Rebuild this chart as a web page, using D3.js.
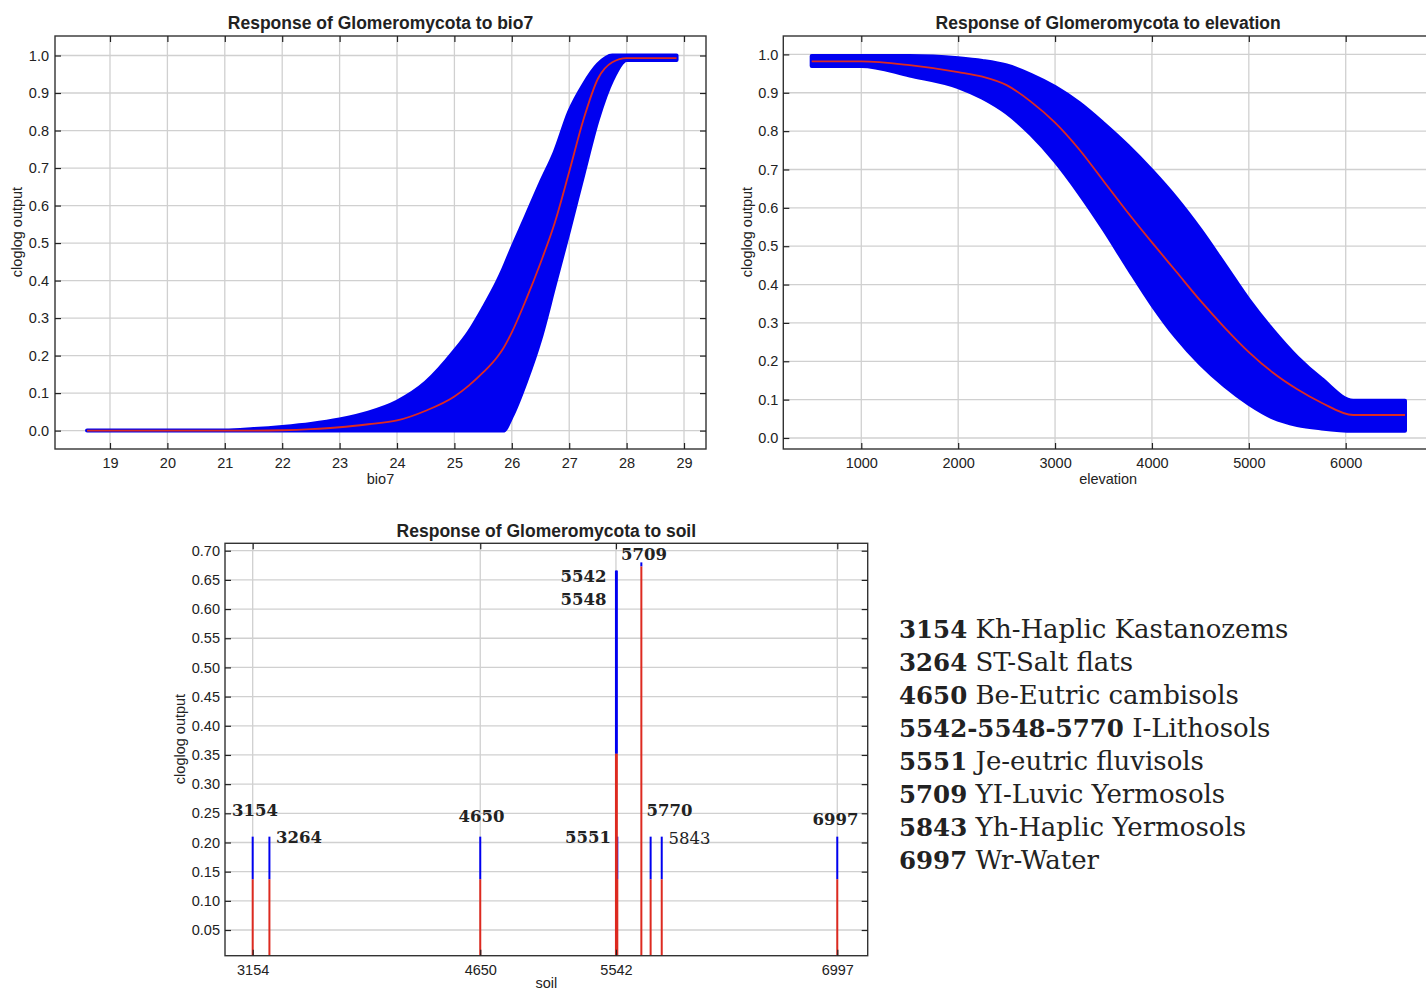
<!DOCTYPE html>
<html>
<head>
<meta charset="utf-8">
<script src="https://cdn.jsdelivr.net/npm/d3@7"></script>
<style>
  body { margin: 0; background: #fff; }
  svg { display: block; }
  text { font-family: "Liberation Sans", Arial, Helvetica, sans-serif; fill: #222; }
</style>
</head>
<body>
<svg width="1426" height="991"></svg>
<script>

// ---- bio7 response ----
const bio7X    = [18.6, 19, 20, 21, 21.5, 22, 22.5, 23, 23.5, 24, 24.5, 25, 25.25, 25.5, 25.75, 25.85, 26, 26.25, 26.5, 26.75, 27, 27.25, 27.5, 27.75, 28, 28.5, 28.87]
const bio7Mean = [0, 0, 0, 0, 0, 0.001, 0.004, 0.009, 0.017, 0.027, 0.053, 0.091, 0.12, 0.155, 0.197, 0.219, 0.262, 0.35, 0.447, 0.555, 0.69, 0.83, 0.938, 0.982, 0.993, 0.993, 0.993]
const bio7Hi   = [0, 0, 0, 0, 0.004, 0.01, 0.018, 0.03, 0.048, 0.077, 0.128, 0.212, 0.262, 0.326, 0.397, 0.43, 0.485, 0.572, 0.66, 0.743, 0.85, 0.922, 0.976, 1.0, 1.0, 1.0, 1.0]
const bio7Lo   = [0, 0, 0, 0, 0, 0, 0, 0, 0, 0, 0, 0, 0, 0, 0, 0, 0.038, 0.132, 0.245, 0.39, 0.535, 0.685, 0.83, 0.935, 0.988, 0.988, 0.988]

// ---- elevation response ----
const elevX    = [488, 1000, 1500, 2000, 2250, 2500, 2750, 3000, 3250, 3500, 3750, 4000, 4250, 4500, 4750, 5000, 5250, 5500, 5750, 6077, 6612]
const elevMean = [0.982, 0.982, 0.972, 0.954, 0.942, 0.92, 0.877, 0.822, 0.752, 0.67, 0.588, 0.51, 0.434, 0.358, 0.288, 0.224, 0.17, 0.127, 0.092, 0.06, 0.06]
const elevHi   = [0.996, 0.996, 0.996, 0.99, 0.983, 0.971, 0.947, 0.915, 0.873, 0.82, 0.762, 0.697, 0.625, 0.543, 0.452, 0.36, 0.28, 0.21, 0.154, 0.097, 0.097]
const elevLo   = [0.97, 0.97, 0.945, 0.915, 0.887, 0.848, 0.792, 0.722, 0.638, 0.545, 0.445, 0.348, 0.263, 0.193, 0.136, 0.089, 0.053, 0.034, 0.025, 0.019, 0.019]

// ---- soil response ----
const soilCodes = [3154, 3264, 4650, 5542, 5548, 5551, 5709, 5770, 5843, 6997]
const soilMean  = [0.137, 0.137, 0.137, 0.352, 0.352, 0.137, 0.673, 0.137, 0.137, 0.137]
const soilUpper = [0.21, 0.21, 0.21, 0.666, 0.666, 0.21, 0.68, 0.21, 0.21, 0.21]
const soilTicks = [3154, 4650, 5542, 6997]

// labels next to the sticks: text, soil position, value
const stickLabels = [
  {t: "3154", at: 3169, v: 0.254, bold: true},
  {t: "3264", at: 3458, v: 0.209, bold: true},
  {t: "4650", at: 4658, v: 0.244, bold: true},
  {t: "5542", at: 5329, v: 0.655, bold: true},
  {t: "5548", at: 5329, v: 0.617, bold: true},
  {t: "5709", at: 5727, v: 0.693, bold: true},
  {t: "5551", at: 5358, v: 0.208, bold: true},
  {t: "5770", at: 5894, v: 0.254, bold: true},
  {t: "5843", at: 6026, v: 0.206, bold: false},
  {t: "6997", at: 6985, v: 0.239, bold: true}
]

const legendCodes = ["3154", "3264", "4650", "5542-5548-5770", "5551", "5709", "5843", "6997"]
const legendNames = ["Kh-Haplic Kastanozems", "ST-Salt flats", "Be-Eutric cambisols", "I-Lithosols",
                     "Je-eutric fluvisols", "YI-Luvic Yermosols", "Yh-Haplic Yermosols", "Wr-Water"]

const tenths = d3.range(0, 11).map(d => d / 10)
const twentieths = d3.range(1, 15).map(d => d / 20)

const svg = d3.select("svg")
const BLUE = "#0000f0"
const RED = "#dd2a20"

function makePanel(p) {
  const x = d3.scaleLinear().domain(p.xDomain).range([p.left, p.right])
  const y = d3.scaleLinear().domain(p.yDomain).range([p.bottom, p.top])
  const g = svg.append("g")

  // grid
  g.append("g").selectAll("line").data(p.xTicks).join("line")
    .attr("x1", d => x(d)).attr("x2", d => x(d))
    .attr("y1", p.top).attr("y2", p.bottom)
    .attr("stroke", "#d0d0d0").attr("stroke-width", 1.3)
  g.append("g").selectAll("line").data(p.yTicks).join("line")
    .attr("x1", p.left).attr("x2", p.right)
    .attr("y1", d => y(d)).attr("y2", d => y(d))
    .attr("stroke", "#d0d0d0").attr("stroke-width", 1.3)

  const marks = g.append("g")

  // frame
  g.append("rect")
    .attr("x", p.left).attr("y", p.top)
    .attr("width", p.right - p.left).attr("height", p.bottom - p.top)
    .attr("fill", "none").attr("stroke", "#333").attr("stroke-width", 1.4)

  // axes, ticks pointing inwards
  const bottomAxis = g.append("g").attr("transform", `translate(0,${p.bottom})`)
    .call(d3.axisBottom(x).tickValues(p.xTicks).tickSize(-6).tickSizeOuter(0).tickPadding(p.xPad).tickFormat(p.xFormat))
  const leftAxis = g.append("g").attr("transform", `translate(${p.left},0)`)
    .call(d3.axisLeft(y).tickValues(p.yTicks).tickSize(-6).tickSizeOuter(0).tickPadding(p.yPad).tickFormat(p.yFormat))
  const topAxis = g.append("g").attr("transform", `translate(0,${p.top})`)
    .call(d3.axisTop(x).tickValues(p.xTicks).tickSize(-6).tickSizeOuter(0).tickFormat(""))
  const rightAxis = g.append("g").attr("transform", `translate(${p.right},0)`)
    .call(d3.axisRight(y).tickValues(p.yTicks).tickSize(-6).tickSizeOuter(0).tickFormat(""))

  ;[bottomAxis, leftAxis, topAxis, rightAxis].forEach(a => {
    a.select(".domain").remove()
    a.selectAll(".tick line").attr("stroke", "#222").attr("stroke-width", 1.2)
    a.selectAll("text").style("font-size", "14.5px").attr("fill", "#222")
      .style("font-family", '"Liberation Sans", Arial, sans-serif')
  })

  // titles
  g.append("text")
    .attr("x", (p.left + p.right) / 2).attr("y", p.titleY)
    .attr("text-anchor", "middle")
    .style("font-size", "17.5px").style("font-weight", "bold").attr("fill", "#111")
    .text(p.title)
  g.append("text")
    .attr("x", (p.left + p.right) / 2).attr("y", p.xLabelY)
    .attr("text-anchor", "middle")
    .style("font-size", "14.5px")
    .text(p.xLabel)
  g.append("text")
    .attr("transform", `translate(${p.yLabelX},${p.yLabelY}) rotate(-90)`)
    .attr("text-anchor", "middle")
    .style("font-size", "14.5px")
    .text("cloglog output")

  return {x, y, marks}
}

function drawBand(panel, xs, lo, hi, mean) {
  const pts = xs.map((d, i) => ({x: d, lo: lo[i], hi: hi[i], m: mean[i]}))
  const area = d3.area()
    .x(d => panel.x(d.x)).y0(d => panel.y(d.lo)).y1(d => panel.y(d.hi))
    .curve(d3.curveMonotoneX)
  panel.marks.append("path")
    .attr("d", area(pts))
    .attr("fill", BLUE).attr("stroke", BLUE)
    .attr("stroke-width", 4).attr("stroke-linejoin", "round")
  const line = d3.line()
    .x(d => panel.x(d.x)).y(d => panel.y(d.m))
    .curve(d3.curveMonotoneX)
  panel.marks.append("path")
    .attr("d", line(pts))
    .attr("fill", "none").attr("stroke", RED).attr("stroke-width", 1.8)
}

// ---- panel 1: bio7 ----
const p1 = makePanel({
  left: 55, right: 706, top: 36, bottom: 449,
  xDomain: [18.042, 29.383], yDomain: [-0.049, 1.052],
  xTicks: d3.range(19, 30), yTicks: tenths,
  xFormat: d3.format("d"), yFormat: d3.format(".1f"),
  xPad: 9, yPad: 6,
  title: "Response of Glomeromycota to bio7", titleY: 29,
  xLabel: "bio7", xLabelY: 484, yLabelX: 22, yLabelY: 232
})
drawBand(p1, bio7X, bio7Lo, bio7Hi, bio7Mean)

// ---- panel 2: elevation ----
const p2 = makePanel({
  left: 783.3, right: 1433, top: 36, bottom: 449,
  xDomain: [195, 6901], yDomain: [-0.0287, 1.048],
  xTicks: [1000, 2000, 3000, 4000, 5000, 6000], yTicks: tenths,
  xFormat: d3.format("d"), yFormat: d3.format(".1f"),
  xPad: 9, yPad: 5,
  title: "Response of Glomeromycota to elevation", titleY: 29,
  xLabel: "elevation", xLabelY: 484, yLabelX: 752, yLabelY: 232
})
drawBand(p2, elevX, elevLo, elevHi, elevMean)

// ---- panel 3: soil ----
const p3 = makePanel({
  left: 225, right: 867.7, top: 543.3, bottom: 955.7,
  xDomain: [2972, 7197], yDomain: [0.006, 0.7127],
  xTicks: soilTicks, yTicks: twentieths,
  xFormat: d3.format("d"), yFormat: d3.format(".2f"),
  xPad: 9, yPad: 5,
  title: "Response of Glomeromycota to soil", titleY: 537,
  xLabel: "soil", xLabelY: 988, yLabelX: 185, yLabelY: 739
})

const soil = soilCodes.map((c, i) => ({c, m: soilMean[i], u: soilUpper[i]}))
p3.marks.selectAll("line.blue").data(soil).join("line")
  .attr("class", "blue")
  .attr("x1", d => p3.x(d.c)).attr("x2", d => p3.x(d.c))
  .attr("y1", d => p3.y(d.m)).attr("y2", d => p3.y(d.u))
  .attr("stroke", BLUE).attr("stroke-width", 2)
p3.marks.selectAll("line.red").data(soil).join("line")
  .attr("class", "red")
  .attr("x1", d => p3.x(d.c)).attr("x2", d => p3.x(d.c))
  .attr("y1", p3.y(p3.y.domain()[0])).attr("y2", d => p3.y(d.m))
  .attr("stroke", RED).attr("stroke-width", 2)

svg.append("g").selectAll("text").data(stickLabels).join("text")
  .attr("x", d => p3.x(d.at)).attr("y", d => p3.y(d.v))
  .attr("text-anchor", "middle").attr("dominant-baseline", "central")
  .style("font-family", '"DejaVu Serif", serif')
  .style("font-size", "16.5px")
  .style("font-weight", d => d.bold ? "bold" : "normal")
  .attr("fill", "#000")
  .text(d => d.t)

// ---- legend ----
const legend = svg.append("g")
legendCodes.forEach((c, i) => {
  const t = legend.append("text")
    .attr("x", 899).attr("y", 638 + i * 33)
    .style("font-family", '"DejaVu Serif", serif')
    .attr("fill", "#000")
  t.append("tspan").style("font-weight", "bold").style("font-size", "24.5px").text(c)
  t.append("tspan").style("font-size", "26px").text(" " + legendNames[i])
})

</script>
</body>
</html>
